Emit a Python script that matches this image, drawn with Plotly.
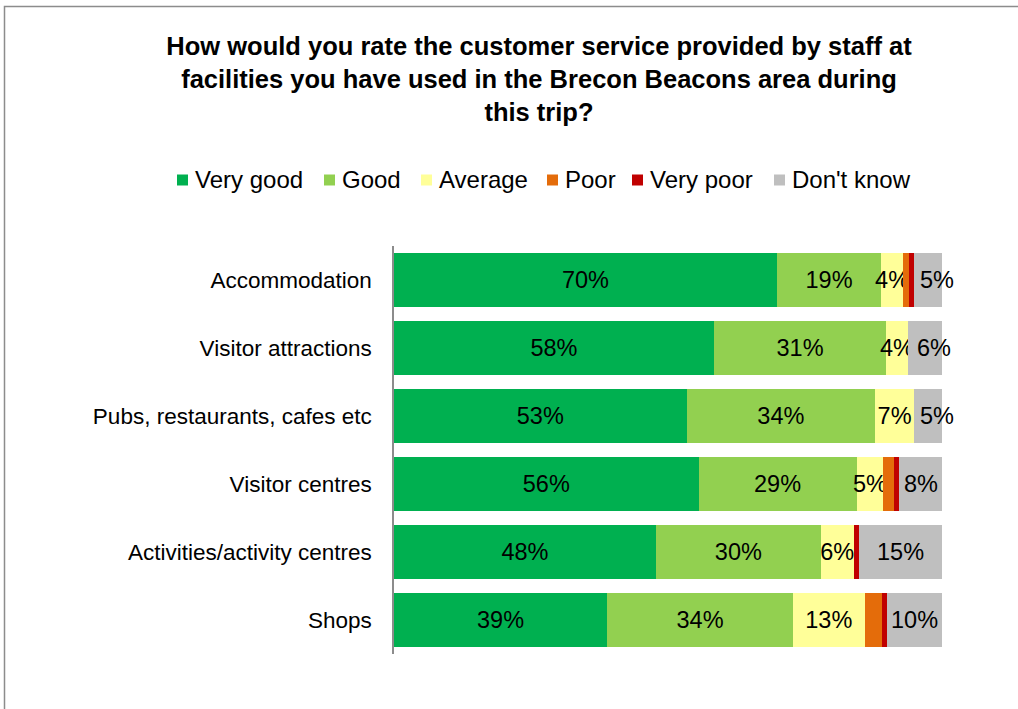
import plotly.graph_objects as go

# Survey question and answer categories
title_text = ("How would you rate the customer service provided by staff at<br>"
              "facilities you have used in the Brecon Beacons area during<br>"
              "this trip?")
facilities = ["Accommodation", "Visitor attractions", "Pubs, restaurants, cafes etc",
              "Visitor centres", "Activities/activity centres", "Shops"]

# Share of respondents (%) per rating, in facility order
very_good = [69.9, 58.4, 53.4, 55.6, 47.8, 38.9]
good = [19.0, 31.4, 34.4, 28.8, 30.1, 33.9]
average = [4.0, 4.0, 7.1, 4.9, 6.0, 13.1]
poor = [1.1, 0.0, 0.0, 2.0, 0.0, 3.1]
very_poor = [0.9, 0.0, 0.0, 0.9, 1.0, 0.9]
dont_know = [5.1, 6.2, 5.1, 7.8, 15.1, 10.1]

rating_names = ["Very good", "Good", "Average", "Poor", "Very poor", "Don't know"]
rating_values = [very_good, good, average, poor, very_poor, dont_know]
rating_colors = ["#00B050", "#92D050", "#FFFF99", "#E46C0A", "#C00000", "#BFBFBF"]
# which ratings carry in-bar value labels (Don't know is labelled separately)
rating_labelled = [True, True, True, False, False, False]

FONT = "Liberation Sans, Arial, sans-serif"
W, H = 1018, 709
L, R, T, B = 394, 76, 246, 55
pw, ph = W - L - R, H - T - B

# legend layout: left edge of each colour key (px) and the row centre
LEGEND_KEY_X = [177, 324, 421, 547, 632, 774]
LEGEND_Y = 180
KEY_SIZE = 11


def px_x(p):
    return (p - L) / pw


def px_y(p):
    return (H - B - p) / ph


fig = go.Figure()
for name, vals, color, labelled in zip(rating_names, rating_values,
                                       rating_colors, rating_labelled):
    fig.add_trace(go.Bar(
        y=facilities, x=vals, name=name, orientation="h",
        marker=dict(color=color, line=dict(width=0)),
        texttemplate="%{x:.0f}%" if labelled else None,
        textposition="inside" if labelled else "none",
        insidetextanchor="middle",
        textangle=0,
        constraintext="none",
        textfont=dict(family=FONT, size=23.5, color="black"),
        width=0.78,
        hoverinfo="name+x",
        showlegend=False,
    ))

annotations = []
# Don't know labels: centred on the segment, nudged right when the segment is narrow
for i, fac in enumerate(facilities):
    total = sum(v[i] for v in rating_values)
    dk = dont_know[i]
    annotations.append(dict(
        x=total - dk / 2, y=fac, xref="x", yref="y",
        text=f"{dk:.0f}%", showarrow=False, xanchor="center", yanchor="middle",
        xshift=9 if dk < 7 else 0,
        font=dict(family=FONT, size=23.5, color="black"),
    ))

shapes = [
    # outer chart frame (runs past the right and bottom edges)
    dict(type="rect", xref="paper", yref="paper",
         x0=px_x(4.5), x1=px_x(1030), y0=px_y(720), y1=px_y(6.5),
         line=dict(color="#8c8c8c", width=1.5), fillcolor="rgba(0,0,0,0)",
         layer="below"),
]

# legend: colour key squares with their names
for kx, name, color in zip(LEGEND_KEY_X, rating_names, rating_colors):
    shapes.append(dict(
        type="rect", xref="paper", yref="paper",
        x0=px_x(kx), x1=px_x(kx + KEY_SIZE),
        y0=px_y(LEGEND_Y + KEY_SIZE / 2), y1=px_y(LEGEND_Y - KEY_SIZE / 2),
        line=dict(width=0), fillcolor=color,
    ))
    annotations.append(dict(
        x=px_x(kx + KEY_SIZE + 5), y=px_y(LEGEND_Y), xref="paper", yref="paper",
        text=name, showarrow=False, xanchor="left", yanchor="middle",
        font=dict(family=FONT, size=24, color="black"),
    ))

fig.update_layout(
    width=W, height=H,
    barmode="stack",
    margin=dict(l=L, r=R, t=T, b=B),
    paper_bgcolor="white", plot_bgcolor="white",
    font=dict(family=FONT, size=22, color="black"),
    uniformtext=dict(minsize=23.5, mode="show"),
    title=dict(text="<b>" + title_text + "</b>", x=539 / W, xanchor="center",
               y=1 - 55 / H, yanchor="top",
               font=dict(family=FONT, size=25.5, color="black")),
    showlegend=False,
    shapes=shapes,
    annotations=annotations,
    xaxis=dict(range=[0, 100], visible=False, fixedrange=True),
    yaxis=dict(categoryorder="array", categoryarray=facilities, autorange="reversed",
               showline=True, linecolor="#8c8c8c", linewidth=1.5,
               ticks="", ticklabelstandoff=16, showgrid=False,
               tickfont=dict(family=FONT, size=22.5, color="black")),
)

fig.write_html("out.html")
